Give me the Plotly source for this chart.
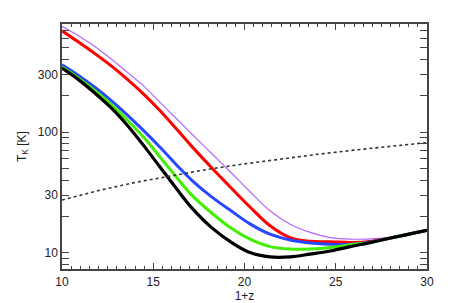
import plotly.graph_objects as go

# 1+z grid
z1 = [10, 10.9, 11.8, 12.7, 13.6, 14.5, 15.4, 16.3, 17.1, 18.2, 19.3,
      20.3, 21.4, 22.5, 23.6, 24.7, 25.8, 27, 28, 29, 30]

# gas temperature curves (K)
t_purple = [758, 632, 515, 405, 312, 240, 175, 128, 97, 66.5, 45.5,
            32.0, 22.2, 17.2, 14.7, 13.3, 12.9, 13.0, 13.3, 14.2, 15.3]
t_red = [694, 560, 449, 355, 273, 205, 149, 105, 76.5, 50.6, 34.0,
         23.9, 16.7, 13.3, 12.4, 12.3, 12.1, 12.4, 13.2, 14.2, 15.3]
t_blue = [363, 296, 236, 183, 138, 102, 74.1, 52.9, 40.0, 29.0, 22.0,
          17.3, 14.2, 12.7, 12.0, 11.7, 11.7, 12.3, 13.2, 14.2, 15.3]
t_green = [348, 281, 221, 169, 125, 89.7, 61.3, 41.8, 30.1, 21.3, 15.8,
           12.9, 11.2, 10.7, 10.7, 11.0, 11.6, 12.2, 13.2, 14.2, 15.3]
t_black = [340, 273, 211, 159, 113, 76.5, 50.6, 33.5, 23.6, 16.1, 12.1,
           10.0, 9.2, 9.2, 9.7, 10.3, 11.2, 12.2, 13.2, 14.2, 15.3]

# CMB temperature (dotted)
z1_cmb = [10, 12, 14, 16, 18, 20, 22, 24, 26, 28, 30]
t_cmb = [27.3, 32.7, 38.2, 43.6, 49.1, 54.5, 60.0, 65.4, 70.9, 76.3, 81.8]

x_ticks = [10, 15, 20, 25, 30]
y_ticks = [10, 30, 100, 300]
y_minor = [8, 9, 20, 40, 50, 60, 70, 80, 90, 200, 400, 500, 600, 700]

fig = go.Figure()

# dotted line sits on the label axis (same range) so that axis gets drawn
fig.add_trace(go.Scatter(x=z1_cmb, y=t_cmb, mode='lines', xaxis='x2',
                         line=dict(color='#333333', width=1.6, dash='dot')))
fig.add_trace(go.Scatter(x=z1, y=t_purple, mode='lines', line_shape='spline',
                         line=dict(color='#b366ff', width=1.2)))
fig.add_trace(go.Scatter(x=z1, y=t_red, mode='lines', line_shape='spline',
                         line=dict(color='#ff0000', width=3)))
fig.add_trace(go.Scatter(x=z1, y=t_blue, mode='lines', line_shape='spline',
                         line=dict(color='#2848ff', width=3)))
fig.add_trace(go.Scatter(x=z1, y=t_green, mode='lines', line_shape='spline',
                         line=dict(color='#44ee00', width=3)))
fig.add_trace(go.Scatter(x=z1, y=t_black, mode='lines', line_shape='spline',
                         line=dict(color='#000000', width=3.2)))

font = dict(family='Liberation Sans, Arial', size=12, color='#222222')

axis_common = dict(showline=True, linecolor='#444444', linewidth=1.5,
                   mirror='allticks', ticks='inside', tickcolor='#444444',
                   showgrid=False, zeroline=False, automargin=False,
                   tickfont=font)

# box + ticks for x; labels drawn by x2 at the bottom of the plotting region,
# a few px under the box
fig.update_layout(
    xaxis=dict(range=[10, 30], tickmode='linear', tick0=10, dtick=5,
               ticklen=6, tickwidth=1, showticklabels=False,
               minor=dict(ticks='inside', dtick=0.5, ticklen=3, tickcolor='#444444'),
               **axis_common),
    xaxis2=dict(range=[10, 30], overlaying='x', anchor='free', position=0,
                side='bottom', tickmode='array', tickvals=x_ticks,
                ticks='', showline=False, showgrid=False, zeroline=False,
                automargin=False, tickfont=font,
                title=dict(text='1+z', standoff=0, font=font)),
)

fig.update_yaxes(type='log', range=[0.863, 2.898], domain=[0.016, 1],
                 tickmode='array', tickvals=y_ticks,
                 ticktext=[str(v) for v in y_ticks],
                 ticklen=7, tickwidth=1,
                 minor=dict(ticks='inside', tickmode='array', tickvals=y_minor,
                            ticklen=4, tickcolor='#444444'),
                 title=dict(text='T<sub>K</sub> [K]', standoff=9, font=font),
                 **axis_common)

# the page sits about 7 px in from the window corner
fig.update_layout(width=471, height=303, showlegend=False,
                  margin=dict(l=54, r=52, t=16, b=38),
                  plot_bgcolor='white', paper_bgcolor='white')

fig.write_html("out.html")
